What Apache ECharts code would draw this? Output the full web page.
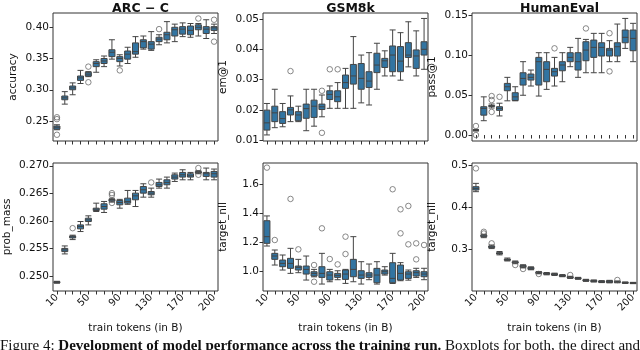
<!DOCTYPE html>
<html>
<head>
<meta charset="utf-8">
<script src="https://cdn.jsdelivr.net/npm/echarts@6/dist/echarts.min.js"></script>
<style>
  html, body { margin: 0; padding: 0; background: #fff; }
  #chart { width: 640px; height: 350px; }
</style>
</head>
<body>
<div id="chart"></div>
<script>
// x categories (train tokens in B)
const tokens = ['10', '20', '30', '40', '50', '60', '70', '80', '90', '100', '110',
    '120', '130', '140', '150', '160', '170', '175', '180', '190', '200'];

// [min, q1, median, q3, max] per category
const arcBoxes = [
    [0.236, 0.237, 0.240, 0.242, 0.244], [0.277, 0.284, 0.287, 0.290, 0.297],
    [0.292, 0.300, 0.303, 0.306, 0.311], [0.310, 0.315, 0.319, 0.322, 0.331],
    [0.321, 0.322, 0.325, 0.328, 0.329], [0.328, 0.337, 0.342, 0.345, 0.348],
    [0.337, 0.342, 0.346, 0.350, 0.354], [0.349, 0.353, 0.360, 0.364, 0.380],
    [0.338, 0.345, 0.350, 0.353, 0.356], [0.342, 0.349, 0.357, 0.362, 0.368],
    [0.352, 0.357, 0.361, 0.375, 0.385], [0.365, 0.367, 0.377, 0.380, 0.386],
    [0.363, 0.365, 0.373, 0.377, 0.393], [0.372, 0.377, 0.381, 0.384, 0.388],
    [0.375, 0.380, 0.388, 0.392, 0.409], [0.377, 0.386, 0.396, 0.400, 0.405],
    [0.385, 0.389, 0.397, 0.401, 0.407], [0.384, 0.388, 0.395, 0.402, 0.406],
    [0.386, 0.396, 0.400, 0.404, 0.406], [0.382, 0.390, 0.397, 0.401, 0.412],
    [0.390, 0.395, 0.399, 0.401, 0.405]
];
const arcOutliers = [[0, 0.256], [0, 0.253], [0, 0.228], [4, 0.337], [4, 0.312],
    [8, 0.331], [13, 0.397], [18, 0.414], [20, 0.412], [20, 0.377]];

const gsmBoxes = [
    [0.0117, 0.0133, 0.0157, 0.0199, 0.0221], [0.0141, 0.0161, 0.0190, 0.0212, 0.0268],
    [0.0144, 0.0155, 0.0171, 0.0194, 0.0221], [0.0161, 0.0183, 0.0200, 0.0208, 0.0246],
    [0.0161, 0.0164, 0.0183, 0.0194, 0.0212], [0.0131, 0.0172, 0.0204, 0.0219, 0.0268],
    [0.0146, 0.0175, 0.0212, 0.0232, 0.0268], [0.0177, 0.0201, 0.0210, 0.0219, 0.0249],
    [0.0205, 0.0234, 0.0251, 0.0263, 0.0279], [0.0205, 0.0227, 0.0243, 0.0263, 0.0290],
    [0.0205, 0.0271, 0.0290, 0.0315, 0.0337], [0.0205, 0.0285, 0.0312, 0.0350, 0.0442],
    [0.0223, 0.0268, 0.0304, 0.0353, 0.0381], [0.0216, 0.0274, 0.0295, 0.0326, 0.0389],
    [0.0268, 0.0323, 0.0348, 0.0387, 0.0420], [0.0312, 0.0340, 0.0362, 0.0370, 0.0395],
    [0.0312, 0.0326, 0.0381, 0.0411, 0.0464], [0.0298, 0.0326, 0.0361, 0.0409, 0.0455],
    [0.0342, 0.0373, 0.0381, 0.0422, 0.0491], [0.0312, 0.0337, 0.0378, 0.0398, 0.0461],
    [0.0334, 0.0381, 0.0400, 0.0425, 0.0502]
];
const gsmOutliers = [[3, 0.0328], [7, 0.0263], [7, 0.0124], [8, 0.0334], [9, 0.0334]];

const humanBoxes = [
    [0.005, 0.006, 0.006, 0.006, 0.007], [0.018, 0.025, 0.0335, 0.0356, 0.048],
    [0.034, 0.036, 0.0366, 0.037, 0.039], [0.024, 0.031, 0.0335, 0.0356, 0.040],
    [0.043, 0.0557, 0.0607, 0.0649, 0.0725], [0.043, 0.0435, 0.048, 0.0532, 0.0607],
    [0.050, 0.0628, 0.0712, 0.0783, 0.0922], [0.0616, 0.0691, 0.0725, 0.0767, 0.0817],
    [0.049, 0.0628, 0.0922, 0.0976, 0.1035], [0.0574, 0.067, 0.0825, 0.0922, 0.1035],
    [0.0616, 0.0741, 0.0796, 0.0838, 0.0976], [0.067, 0.0808, 0.088, 0.0922, 0.1035],
    [0.0859, 0.0922, 0.0976, 0.1035, 0.1102], [0.0725, 0.0817, 0.0922, 0.1035, 0.1215],
    [0.0783, 0.0934, 0.1068, 0.1173, 0.1202], [0.0783, 0.0976, 0.1102, 0.1194, 0.1278],
    [0.0783, 0.0993, 0.1102, 0.116, 0.1278], [0.0922, 0.0993, 0.1068, 0.1089, 0.1186],
    [0.0922, 0.0993, 0.111, 0.116, 0.1395], [0.1089, 0.116, 0.1228, 0.132, 0.1466],
    [0.0922, 0.106, 0.1215, 0.132, 0.1404]
];
const humanOutliers = [[0, 0.0113], [0, 0.0], [2, 0.049], [2, 0.044], [2, 0.029],
    [3, 0.048], [10, 0.109], [14, 0.134], [17, 0.128], [17, 0.080]];

const massBoxes = [
    [0.24870, 0.24873, 0.24885, 0.24897, 0.24903], [0.25400, 0.25442, 0.25473, 0.25500, 0.25545],
    [0.25660, 0.25690, 0.25710, 0.25727, 0.25740], [0.25806, 0.25855, 0.25897, 0.25927, 0.25988],
    [0.25927, 0.25988, 0.26018, 0.26048, 0.26091], [0.26170, 0.26188, 0.26212, 0.26230, 0.26321],
    [0.26152, 0.26212, 0.26260, 0.26310, 0.26352], [0.26340, 0.26358, 0.26382, 0.26390, 0.26410],
    [0.26230, 0.26291, 0.26333, 0.26370, 0.26390], [0.26300, 0.26321, 0.26352, 0.26412, 0.26552],
    [0.26260, 0.26382, 0.26454, 0.26503, 0.26552], [0.26430, 0.26503, 0.26564, 0.26624, 0.26673],
    [0.26430, 0.26473, 0.26503, 0.26533, 0.26594], [0.26594, 0.26624, 0.26655, 0.26697, 0.26758],
    [0.26594, 0.26655, 0.26697, 0.26745, 0.26794], [0.26715, 0.26758, 0.26794, 0.26836, 0.26867],
    [0.26745, 0.26794, 0.26836, 0.26879, 0.26927], [0.26745, 0.26794, 0.26818, 0.26855, 0.26879],
    [0.26855, 0.26867, 0.26879, 0.26897, 0.26910], [0.26745, 0.26806, 0.26855, 0.26879, 0.26958],
    [0.26745, 0.26794, 0.26855, 0.26897, 0.26940]
];
const massOutliers = [[2, 0.25867], [7, 0.26503], [7, 0.26470], [7, 0.26325],
    [12, 0.26697], [18, 0.26958], [18, 0.26836]];

const nllBoxes = [
    [1.173, 1.1915, 1.2377, 1.348, 1.381], [1.0415, 1.0808, 1.1038, 1.1223, 1.1454],
    [1.0069, 1.030, 1.053, 1.0762, 1.1108], [0.984, 1.0185, 1.053, 1.0877, 1.157],
    [0.9885, 1.0069, 1.0254, 1.0346, 1.0808], [0.9377, 0.979, 1.0115, 1.0346, 1.1038],
    [0.960, 0.9654, 0.9838, 0.9954, 1.0115], [0.910, 0.9562, 0.9838, 1.030, 1.1223],
    [0.926, 0.9377, 0.9723, 0.9954, 1.0115], [0.940, 0.9562, 0.9700, 0.9838, 1.002],
    [0.9146, 0.9423, 0.9792, 1.0069, 1.0115], [0.926, 0.9608, 1.0115, 1.0808, 1.2377],
    [0.910, 0.9492, 0.9723, 1.0023, 1.0646], [0.940, 0.9562, 0.9723, 0.9885, 1.0485],
    [0.910, 0.9192, 0.9723, 1.0185, 1.0646], [0.972, 0.979, 0.9954, 1.0069, 1.030],
    [0.914, 0.9192, 0.9492, 1.0577, 1.1223], [0.933, 0.9377, 0.9838, 1.0415, 1.058],
    [0.937, 0.9492, 0.9792, 0.9954, 1.007], [0.956, 0.9654, 0.9885, 1.0023, 1.019],
    [0.940, 0.9608, 0.9792, 0.9954, 1.019]
];
const nllOutliers = [[0, 1.715], [1, 1.2146], [3, 1.4985], [4, 1.15], [6, 1.0415], [6, 0.926],
    [7, 1.2954], [8, 1.083], [9, 1.046], [10, 1.2377], [10, 1.1177], [16, 1.5654],
    [17, 1.4269], [17, 1.2608], [18, 1.45], [18, 1.1846], [19, 1.1915], [19, 1.0808], [20, 1.18]];

const codeNllBoxes = [
    [0.4365, 0.4405, 0.4444, 0.4484, 0.4563], [0.3270, 0.3294, 0.3310, 0.3333, 0.3350],
    [0.3010, 0.3032, 0.3050, 0.3071, 0.3095], [0.2860, 0.2880, 0.2897, 0.2913, 0.2940],
    [0.2715, 0.2730, 0.2746, 0.2762, 0.2785], [0.2650, 0.2667, 0.2683, 0.2698, 0.2715],
    [0.2550, 0.2563, 0.2587, 0.2611, 0.2625], [0.2505, 0.2516, 0.2540, 0.2563, 0.2575],
    [0.2410, 0.2421, 0.2437, 0.2452, 0.2465], [0.2385, 0.2397, 0.2413, 0.2429, 0.2440],
    [0.2370, 0.2381, 0.2397, 0.2413, 0.2425], [0.2340, 0.2349, 0.2365, 0.2381, 0.2390],
    [0.2300, 0.2310, 0.2325, 0.2341, 0.2350], [0.2280, 0.2286, 0.2302, 0.2318, 0.2325],
    [0.2230, 0.2238, 0.2254, 0.2270, 0.2278], [0.2215, 0.2222, 0.2238, 0.2254, 0.2262],
    [0.2200, 0.2206, 0.2222, 0.2238, 0.2246], [0.2195, 0.2200, 0.2222, 0.2246, 0.2254],
    [0.2195, 0.2205, 0.2214, 0.2230, 0.2238], [0.2180, 0.2186, 0.2198, 0.2208, 0.2214],
    [0.2175, 0.2180, 0.2190, 0.2200, 0.2206]
];
const codeNllOutliers = [[0, 0.492], [1, 0.341], [1, 0.337], [2, 0.3135], [5, 0.2619],
    [6, 0.2524], [8, 0.2405], [12, 0.2381], [18, 0.2262]];

// y ticks per panel
const arcTicks = [0.25, 0.30, 0.35, 0.40];
const gsmTicks = [0.01, 0.02, 0.03, 0.04, 0.05];
const humanTicks = [0.00, 0.05, 0.10, 0.15];
const massTicks = [0.250, 0.255, 0.260, 0.265, 0.270];
const nllTicks = [1.0, 1.2, 1.4, 1.6];
const codeNllTicks = [0.3, 0.4, 0.5];

const titles = ['ARC − C', 'GSM8k', 'HumanEval'];
const yNames = ['accuracy', 'em@1', 'pass@1', 'prob_mass', 'target_nll', 'target_nll'];
const xName = 'train tokens (in B)';

const FONT = 'DejaVu Sans';
const BOX_COLOR = '#3274a1';
const LINE_COLOR = '#444444';

// panel setup: data, ticks, axis range, decimals
const panels = [
    {boxes: arcBoxes, out: arcOutliers, ticks: arcTicks, min: 0.218, max: 0.4228, dec: 2},
    {boxes: gsmBoxes, out: gsmOutliers, ticks: gsmTicks, min: 0.0097, max: 0.052, dec: 2},
    {boxes: humanBoxes, out: humanOutliers, ticks: humanTicks, min: -0.0075, max: 0.1534, dec: 2},
    {boxes: massBoxes, out: massOutliers, ticks: massTicks, min: 0.24727, max: 0.2705, dec: 3},
    {boxes: nllBoxes, out: nllOutliers, ticks: nllTicks, min: 0.862, max: 1.747, dec: 1},
    {boxes: codeNllBoxes, out: codeNllOutliers, ticks: codeNllTicks, min: 0.2, max: 0.5048, dec: 1}
];

const lefts = [53, 263, 472];
const tops = [13, 163];
const W = 165, H = 128;

const chart = echarts.init(document.getElementById('chart'), null, {renderer: 'canvas'});

const grid = [], xAxis = [], yAxis = [], series = [];

panels.forEach((p, i) => {
    const row = Math.floor(i / 3), col = i % 3;
    const bottomRow = row === 1;
    grid.push({
        left: lefts[col], top: tops[row], width: W, height: H,
        show: true, borderColor: '#333', borderWidth: 1, backgroundColor: 'transparent'
    });
    xAxis.push({
        type: 'category', gridIndex: i, data: tokens, boundaryGap: true,
        axisLine: {show: false},
        axisTick: {show: true, alignWithLabel: true, interval: 0, length: 3.5,
            lineStyle: {color: '#333'}},
        axisLabel: {
            show: bottomRow, rotate: 45, interval: (idx) => idx % 4 === 0,
            fontFamily: FONT, fontSize: 10, color: '#111', margin: 5
        },
        name: bottomRow ? xName : '', nameLocation: 'middle', nameGap: 32,
        nameTextStyle: {fontFamily: FONT, fontSize: 10.5, color: '#111'}
    });
    yAxis.push({
        type: 'value', gridIndex: i, min: p.min, max: p.max, scale: true,
        splitLine: {show: false},
        axisLine: {show: false},
        axisTick: {show: true, length: 3.5, customValues: p.ticks, lineStyle: {color: '#333'}},
        axisLabel: {
            customValues: p.ticks, formatter: (v) => v.toFixed(p.dec),
            fontFamily: FONT, fontSize: 10.5, color: '#111', margin: 4
        },
        name: yNames[i], nameLocation: 'middle', nameRotate: 90,
        nameGap: i === 3 ? 40 : 34,
        nameTextStyle: {fontFamily: FONT, fontSize: 10.5, color: '#111'}
    });
    series.push({
        type: 'boxplot', xAxisIndex: i, yAxisIndex: i, data: p.boxes,
        boxWidth: [6, 6],
        itemStyle: {color: BOX_COLOR, borderColor: LINE_COLOR, borderWidth: 1},
        emphasis: {disabled: true}
    });
    series.push({
        type: 'scatter', xAxisIndex: i, yAxisIndex: i, data: p.out,
        symbol: 'circle', symbolSize: 5.5,
        itemStyle: {color: 'rgba(255,255,255,0)', borderColor: '#5a5a5a', borderWidth: 0.9},
        emphasis: {disabled: true}
    });
});

const title = titles.map((t, c) => ({
    text: t, left: lefts[c] + W / 2, top: -3, textAlign: 'center',
    textStyle: {fontFamily: FONT, fontSize: 12.5, fontWeight: 'bold', color: '#111'}
}));

chart.setOption({
    animation: false,
    title,
    grid, xAxis, yAxis, series,
    graphic: [{
        type: 'text', left: 0, top: 339,
        style: {
            text: 'Figure 4: {b|Development of model performance across the training run.} Boxplots for both, the direct and continuation',
            font: '15px "Liberation Serif"', fill: '#111',
            rich: {b: {fontWeight: 'bold', fontFamily: 'Liberation Serif', fontSize: 15}}
        }
    }]
});
</script>
</body>
</html>
